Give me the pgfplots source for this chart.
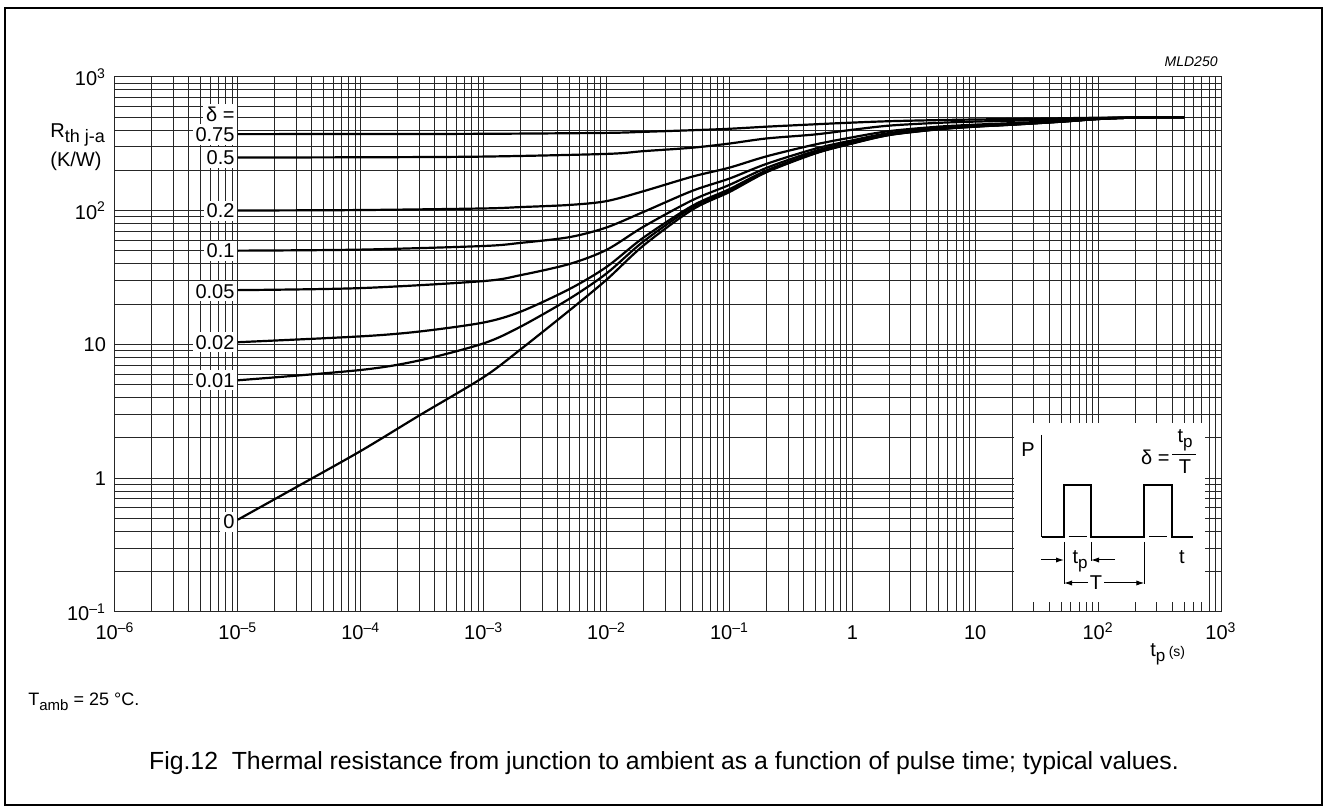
\documentclass[border=0pt]{standalone}
\usepackage{fontspec}
\setmainfont{Liberation Sans}
\usepackage{pgfplots}
\pgfplotsset{compat=1.18}
\usetikzlibrary{arrows.meta}
\newcommand{\sub}[2][8]{\raisebox{-0.45ex}{\fontsize{#1}{#1}\selectfont #2}}

\begin{document}
\begin{tikzpicture}[font=\fontsize{10}{12}\selectfont]
% page and frame, in pixel units of the reference
\begin{scope}[x=0.5pt,y=-0.5pt,shift={(-57.5pt,306pt)}]
  \path[use as bounding box] (0,0) rectangle (1328,812);
  \draw[line width=0.6pt] (5,8) rectangle (1322,805);
\end{scope}

\begin{axis}[
    at={(0,0)}, anchor=south west,
    scale only axis, width=553pt, height=267.5pt,
    xmode=log, ymode=log,
    xmin=1e-6, xmax=1e3, ymin=0.1, ymax=1000,
    xtick={1e-6,1e-5,1e-4,1e-3,1e-2,1e-1,1,10,100,1000},
    xticklabels={10\textsuperscript{–6},10\textsuperscript{–5},10\textsuperscript{–4},10\textsuperscript{–3},10\textsuperscript{–2},10\textsuperscript{–1},1,10,10\textsuperscript{2},10\textsuperscript{3}},
    ytick={0.1,1,10,100,1000},
    yticklabels={10\textsuperscript{–1},1,10,10\textsuperscript{2},10\textsuperscript{3}},
    minor xtick={2e-6,3e-6,4e-6,5e-6,6e-6,7e-6,8e-6,9e-6,
                 2e-5,3e-5,4e-5,5e-5,6e-5,7e-5,8e-5,9e-5,
                 2e-4,3e-4,4e-4,5e-4,6e-4,7e-4,8e-4,9e-4,
                 2e-3,3e-3,4e-3,5e-3,6e-3,7e-3,8e-3,9e-3,
                 0.02,0.03,0.04,0.05,0.06,0.07,0.08,0.09,
                 0.2,0.3,0.4,0.5,0.6,0.7,0.8,0.9,
                 2,3,4,5,6,7,8,9,
                 20,30,40,50,60,70,80,90,
                 200,300,400,500,600,700,800,900},
    minor ytick={0.2,0.3,0.4,0.5,0.6,0.7,0.8,0.9,
                 2,3,4,5,6,7,8,9,
                 20,30,40,50,60,70,80,90,
                 200,300,400,500,600,700,800,900},
    grid=both,
    major grid style={black!85, line width=0.5pt},
    minor grid style={black!85, line width=0.5pt},
    axis line style={black!85, line width=0.5pt},
    major tick length=0pt, minor tick length=0pt,
    tick label style={font=\fontsize{10}{12}\selectfont},
    xticklabel style={anchor=base, yshift=-14pt},
    yticklabel style={xshift=-1pt},
    clip=false,
]
% delta = 0.75
\addplot[black, line width=1.1pt, smooth] coordinates {
 (1e-5,374) (1e-4,374.5) (1e-3,376) (1e-2,382) (2e-2,389) (5e-2,400) (0.1,410) (0.2,425)
 (0.5,443) (1,456) (2,467) (5,476) (10,481) (20,485) (50,491) (100,496) (200,499) (500,500)};
% delta = 0.5
\addplot[black, line width=1.1pt, smooth] coordinates {
 (1e-5,250) (1e-4,251) (1e-3,254) (1e-2,266) (2e-2,279) (5e-2,296) (0.1,318) (0.2,347)
 (0.5,372) (1,403) (2,433) (5,454) (10,464) (20,471) (50,482) (100,492) (200,498) (500,500)};
% delta = 0.2
\addplot[black, line width=1.1pt, smooth] coordinates {
 (1e-5,100.4) (1e-4,101.2) (1e-3,104) (2e-3,106.5) (5e-3,110.5) (1e-2,118) (2e-2,140)
 (5e-2,180) (0.1,210) (0.2,255) (0.5,313) (1,354) (2,394) (5,425) (10,440) (20,452) (50,470) (100,488) (200,498) (500,500)};
% delta = 0.1
\addplot[black, line width=1.1pt, smooth] coordinates {
 (1e-5,50.3) (1e-4,51.2) (1e-3,54.5) (2e-3,57.5) (5e-3,63.5) (1e-2,75) (2e-2,98)
 (5e-2,141) (0.1,174) (0.2,224) (0.5,291) (1,336) (2,381) (5,415) (10,432) (20,446) (50,467) (100,486) (200,497) (500,500)};
% delta = 0.05
\addplot[black, line width=1.1pt, smooth] coordinates {
 (1e-5,25.5) (1e-4,26.4) (1e-3,29.8) (2e-3,33) (5e-3,40) (1e-2,51) (2e-2,76)
 (5e-2,120) (0.1,156) (0.2,209) (0.5,280) (1,327) (2,375) (5,411) (10,429) (20,443) (50,465) (100,486) (200,497) (500,500)};
% delta = 0.02
\addplot[black, line width=1.1pt, smooth] coordinates {
 (1e-5,10.4) (1e-4,11.5) (3e-4,12.5) (1e-3,14.6) (2e-3,17.6) (5e-3,26)
 (1e-2,38) (2e-2,63) (5e-2,109) (0.1,145) (0.2,200) (0.5,272) (1,322) (2,371) (5,408) (10,427) (20,441) (50,464) (100,485) (200,497) (500,500)};
% delta = 0.01
\addplot[black, line width=1.1pt, smooth] coordinates {
 (1e-5,5.4) (1e-4,6.45) (3e-4,7.6) (1e-3,10.2) (2e-3,13.6) (5e-3,22)
 (1e-2,34) (2e-2,59) (5e-2,106) (0.1,142) (0.2,197) (0.5,270) (1,320) (2,369) (5,407) (10,426) (20,440) (50,463) (100,485) (200,497) (500,500)};
% delta = 0
\addplot[black, line width=1.1pt, smooth] coordinates {
 (1e-5,0.49) (3e-5,0.86) (1e-4,1.6) (3e-4,2.95) (1e-3,5.7)
 (2e-3,9.2) (5e-3,18) (1e-2,30.5) (2e-2,55) (5e-2,102) (0.1,138) (0.2,194) (0.5,268)
 (1,318) (2,368) (5,406) (10,425) (20,440) (50,463) (100,485) (200,497) (500,500)};

\begin{scope}[every node/.style={fill=white, inner sep=1.5pt, anchor=east}]
  \node at (axis cs:1e-5,528) {δ =};
  \node at (axis cs:1e-5,372) {0.75};
  \node at (axis cs:1e-5,250) {0.5};
  \node at (axis cs:1e-5,100) {0.2};
  \node at (axis cs:1e-5,50) {0.1};
  \node at (axis cs:1e-5,25) {0.05};
  \node at (axis cs:1e-5,10.4) {0.02};
  \node at (axis cs:1e-5,5.4) {0.01};
  \node at (axis cs:1e-5,0.47) {0};
\end{scope}
\end{axis}

% texts and the pulse sketch, in pixel units of the reference
\begin{scope}[x=0.5pt,y=-0.5pt,shift={(-57.5pt,306pt)}]
  \node[anchor=base west, inner sep=0] at (50,138) {R\sub[9]{th j-a}};
  \node[anchor=base west, inner sep=0] at (50,167) {(K/W)};
  \node[anchor=base east, inner sep=0, font=\fontsize{7}{8}\selectfont\itshape] at (1218,67) {MLD250};
  \node[anchor=base west, inner sep=0] at (1150,657) {t\sub[8.5]{p}\,{\fontsize{7}{8}\selectfont (s)}};
  \node[anchor=base west, inner sep=0, font=\fontsize{9}{11}\selectfont] at (28,706) {T\sub[7.5]{amb} = 25 °C.};
  \node[anchor=base, inner sep=0, font=\fontsize{12.4}{14}\selectfont] at (664,770)
    {Fig.12\ \ Thermal resistance from junction to ambient as a function of pulse time; typical values.};

  % inset
  \fill[white] (1014,423) rectangle (1205,602);
  \draw[line width=0.5pt] (1041.7,435) -- (1041.7,537);
  \draw[line width=1pt] (1041.7,537) -- (1064,537) -- (1064,485) -- (1091,485) -- (1091,537)
     -- (1144.3,537) -- (1144.3,485) -- (1171.7,485) -- (1171.7,537) -- (1193,537);
  \draw[line width=0.5pt] (1068.5,537) -- (1086.5,537);
  \draw[line width=0.5pt] (1149,537) -- (1167,537);
  \draw[line width=0.5pt] (1064,542) -- (1064,584);
  \draw[line width=0.5pt] (1091,542) -- (1091,561);
  \draw[line width=0.5pt] (1144.3,542) -- (1144.3,584);
  \draw[line width=0.5pt, -{Latex[length=4pt,width=2.6pt]}] (1041,560) -- (1064,560);
  \draw[line width=0.5pt, -{Latex[length=4pt,width=2.6pt]}] (1115,560) -- (1091,560);
  \draw[line width=0.5pt, -{Latex[length=4pt,width=2.6pt]}] (1088,583) -- (1064,583);
  \draw[line width=0.5pt, -{Latex[length=4pt,width=2.6pt]}] (1104,583) -- (1144.3,583);
  \node[inner sep=0] at (1028,450) {P};
  \node[inner sep=0] at (1182,557) {t};
  \node[anchor=base, inner sep=0] at (1080,564) {t\sub[8.5]{p}};
  \node[inner sep=0] at (1096,583) {T};
  \node[anchor=east, inner sep=0] at (1170,457) {δ =};
  \draw[line width=0.5pt] (1172,455) -- (1196,455);
  \node[anchor=base, inner sep=0] at (1185,443) {t\sub[8.5]{p}};
  \node[inner sep=0] at (1185,467) {T};
\end{scope}
\end{tikzpicture}
\end{document}
